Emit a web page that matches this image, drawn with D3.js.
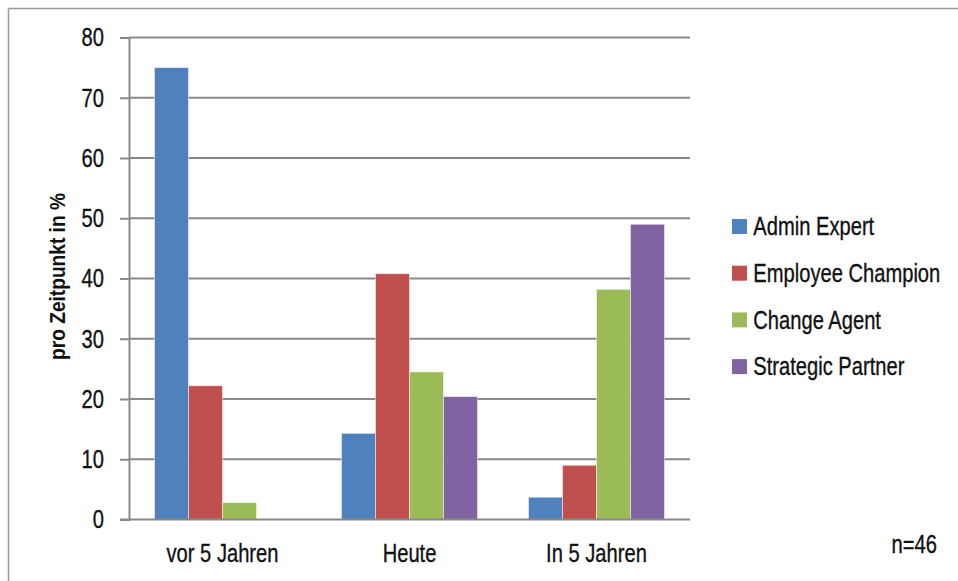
<!DOCTYPE html>
<html>
<head>
<meta charset="utf-8">
<script src="https://cdn.jsdelivr.net/npm/d3@7"></script>
<style>
  html, body { margin: 0; padding: 0; background: #fff; }
  svg { display: block; font-family: "Liberation Sans", Arial, sans-serif; }
  /* condensed look: squeeze glyphs horizontally around their anchor */
  .narrow { transform-box: fill-box; transform: scaleX(0.775); stroke: #111; stroke-width: 0.35px; }
  .narrow.start { transform-origin: left center; }
  .narrow.middle { transform-origin: center center; }
  .narrow.end { transform-origin: right center; }
</style>
</head>
<body>
<svg id="chart" width="958" height="581"></svg>
<script>
// Share of HR roles per point in time (percent)
const categories = ["vor 5 Jahren", "Heute", "In 5 Jahren"];
const seriesNames = ["Admin Expert", "Employee Champion", "Change Agent", "Strategic Partner"];
const adminExpert      = [75.0, 14.3, 3.7];
const employeeChampion = [22.2, 40.8, 9.0];
const changeAgent      = [2.8, 24.5, 38.2];
const strategicPartner = [0.0, 20.4, 49.0];
const yTicks = [0, 10, 20, 30, 40, 50, 60, 70, 80];
const colors = ["#4F81BD", "#C0504D", "#9BBB59", "#8064A2"];
const sampleNote = "n=46";
const yTitle = "pro Zeitpunkt in %";

const seriesValues = [adminExpert, employeeChampion, changeAgent, strategicPartner];

const svg = d3.select("#chart");
const plot = { left: 129, right: 690, top: 37.5, bottom: 519.5 };
const fontSize = 26;
const gridColor = "#898989";

// outer frame (top and left edges)
svg.append("line").attr("x1", 8.5).attr("x2", 958).attr("y1", 8.5).attr("y2", 8.5)
  .attr("stroke", "#9a9a9a").attr("stroke-width", 1.5);
svg.append("line").attr("x1", 8.5).attr("x2", 8.5).attr("y1", 8.5).attr("y2", 581)
  .attr("stroke", "#9a9a9a").attr("stroke-width", 1.5);

const x0 = d3.scaleBand().domain(categories).range([plot.left, plot.right]).padding(0);
const x1 = d3.scaleBand().domain(seriesNames)
  .range([0, x0.bandwidth()]).paddingInner(0).paddingOuter(0.75);
const y = d3.scaleLinear().domain([0, 80]).range([plot.bottom, plot.top]);

// horizontal gridlines
svg.append("g").selectAll("line").data(yTicks.filter(t => t > 0)).join("line")
  .attr("x1", plot.left).attr("x2", plot.right)
  .attr("y1", d => y(d)).attr("y2", d => y(d))
  .attr("stroke", gridColor).attr("stroke-width", 2);

// bars
const groups = svg.append("g").selectAll("g").data(categories).join("g")
  .attr("transform", c => `translate(${x0(c)},0)`);
groups.selectAll("rect")
  .data((c, ci) => seriesNames.map((s, si) => ({ s, si, v: seriesValues[si][ci] })).filter(d => d.v > 0))
  .join("rect")
  .attr("x", d => x1(d.s))
  .attr("width", x1.bandwidth())
  .attr("y", d => y(d.v))
  .attr("height", d => y(0) - y(d.v))
  .attr("fill", d => colors[d.si])
  .attr("stroke", "rgba(255,255,255,0.6)")
  .attr("stroke-width", 0.8);

// y axis
const yAxis = d3.axisLeft(y).tickValues(yTicks).tickSize(9).tickPadding(16).tickFormat(d3.format("d"));
const ya = svg.append("g").attr("transform", `translate(${plot.left},0)`).call(yAxis);
ya.attr("font-family", null).attr("font-size", null);
ya.select(".domain").attr("stroke", gridColor).attr("stroke-width", 2);
ya.selectAll(".tick line").attr("stroke", gridColor).attr("stroke-width", 2);
ya.selectAll(".tick text").attr("font-size", fontSize).attr("fill", "#111")
  .attr("class", "narrow end");

// x axis baseline and category labels
const xAxis = d3.axisBottom(x0).tickSize(0).tickPadding(24);
const xa = svg.append("g").attr("transform", `translate(0,${plot.bottom})`).call(xAxis);
xa.attr("font-family", null).attr("font-size", null);
xa.select(".domain").attr("stroke", gridColor).attr("stroke-width", 2)
  .attr("d", `M${plot.left - 9},0H${plot.right}`);
xa.selectAll(".tick text").attr("font-size", fontSize).attr("fill", "#111")
  .attr("class", "narrow middle");

// y axis title
svg.append("text")
  .attr("transform", `translate(65,${(plot.top + plot.bottom) / 2 - 2}) rotate(-90) scale(0.85,1)`)
  .attr("text-anchor", "middle")
  .attr("font-size", 22.5).attr("font-weight", "bold").attr("fill", "#111")
  .text(yTitle);

// legend
const legend = svg.append("g").attr("transform", "translate(732,226.5)");
const rows = legend.selectAll("g").data(seriesNames).join("g")
  .attr("transform", (d, i) => `translate(0,${i * 46.7})`);
rows.append("rect").attr("x", 0).attr("y", -7.5).attr("width", 15).attr("height", 15)
  .attr("fill", (d, i) => colors[i]);
rows.append("text").attr("x", 21.3).attr("y", 8.8)
  .attr("class", "narrow start")
  .attr("font-size", fontSize).attr("fill", "#111").text(d => d);

// sample size note
svg.append("text").attr("x", 937).attr("y", 553.5).attr("text-anchor", "end")
  .attr("class", "narrow end")
  .attr("font-size", fontSize).attr("fill", "#111").text(sampleNote);
</script>
</body>
</html>
